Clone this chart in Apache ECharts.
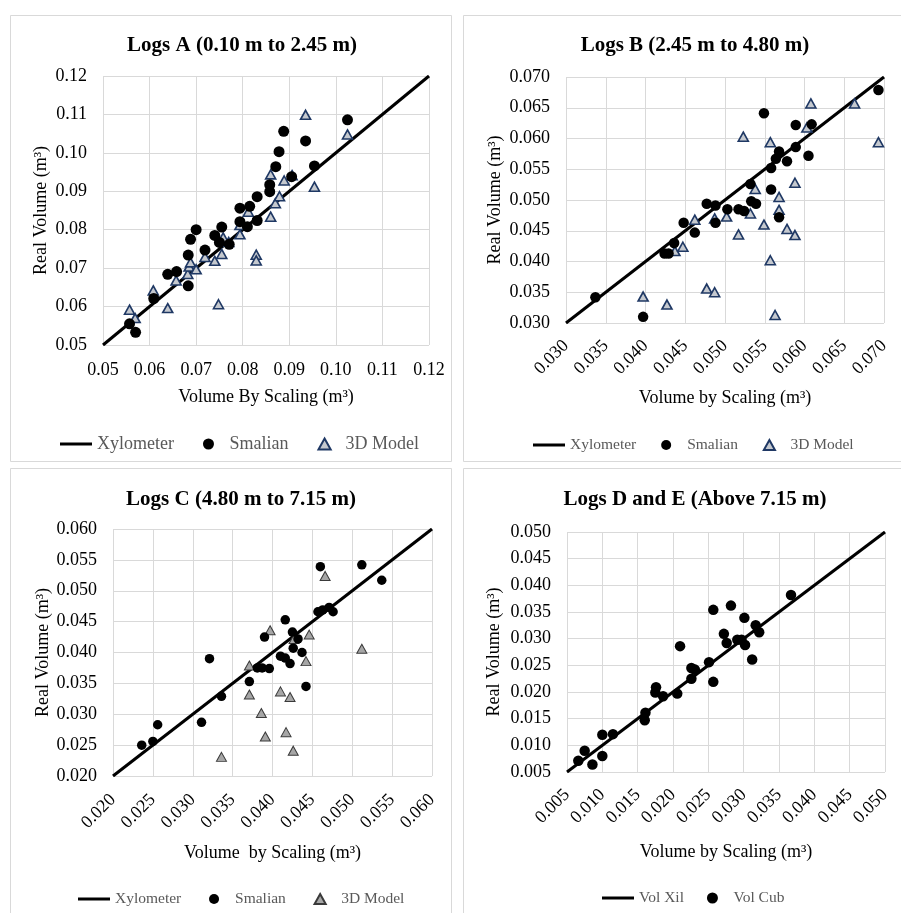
<!DOCTYPE html>
<html><head><meta charset="utf-8">
<script src="https://cdn.jsdelivr.net/npm/echarts@6/dist/echarts.min.js"></script>
<style>html,body{margin:0;padding:0;background:#fff}#c{width:901px;height:913px}</style>
</head><body><div id="c"></div>
<script>
// ---- Data ----
const titles = ['Logs A (0.10 m to 2.45 m)', 'Logs B (2.45 m to 4.80 m)', 'Logs C (4.80 m to 7.15 m)', 'Logs D and E (Above 7.15 m)'];
const xNames = ['Volume By Scaling (m³)', 'Volume by Scaling (m³)', 'Volume  by Scaling (m³)', 'Volume by Scaling (m³)'];
const yName = 'Real Volume (m³)';
const axisMin = [0.05, 0.030, 0.020, 0.005];
const axisMax = [0.12, 0.070, 0.060, 0.050];
const axisStep = [0.01, 0.005, 0.005, 0.005];
const axisDecimals = [2, 3, 3, 3];

const aSmalian = [[0.0557,0.0555],[0.0570,0.0533],[0.0609,0.0621],[0.0639,0.0684],[0.0658,0.0691],[0.0683,0.0654],[0.0683,0.0734],[0.0688,0.0775],[0.0700,0.0800],[0.0719,0.0747],[0.0740,0.0785],[0.0755,0.0807],[0.0750,0.0767],[0.0771,0.0762],[0.0794,0.0856],[0.0815,0.0861],[0.0794,0.0821],[0.0810,0.0808],[0.0831,0.0824],[0.0831,0.0886],[0.0858,0.0917],[0.0858,0.0899],[0.0871,0.0964],[0.0878,0.1003],[0.0888,0.1056],[0.0905,0.0938],[0.0935,0.1031],[0.0954,0.0966],[0.1025,0.1086]];
const a3D = [[0.0557,0.0592],[0.0569,0.0570],[0.0608,0.0642],[0.0639,0.0596],[0.0657,0.0668],[0.0682,0.0685],[0.0685,0.0704],[0.0688,0.0715],[0.0700,0.0697],[0.0719,0.0729],[0.0740,0.0719],[0.0748,0.0606],[0.0755,0.0737],[0.0758,0.0780],[0.0770,0.0768],[0.0794,0.0788],[0.0794,0.0812],[0.0812,0.0847],[0.0829,0.0735],[0.0829,0.0720],[0.0860,0.0834],[0.0860,0.0944],[0.0870,0.0869],[0.0879,0.0887],[0.0889,0.0928],[0.0906,0.0942],[0.0935,0.1099],[0.0954,0.0912],[0.1025,0.1048]];
const bSmalian = [[0.0337,0.0342],[0.0397,0.0310],[0.0424,0.0413],[0.0429,0.0413],[0.0436,0.0430],[0.0448,0.0463],[0.0462,0.0447],[0.0477,0.0494],[0.0488,0.0491],[0.0488,0.0463],[0.0503,0.0485],[0.0517,0.0485],[0.0524,0.0482],[0.0532,0.0526],[0.0533,0.0498],[0.0539,0.0494],[0.0549,0.0641],[0.0558,0.0552],[0.0558,0.0517],[0.0564,0.0567],[0.0568,0.0579],[0.0568,0.0472],[0.0578,0.0563],[0.0589,0.0586],[0.0589,0.0622],[0.0605,0.0572],[0.0609,0.0623],[0.0693,0.0679]];
const b3D = [[0.0397,0.0343],[0.0427,0.0330],[0.0437,0.0417],[0.0447,0.0424],[0.0462,0.0468],[0.0477,0.0356],[0.0487,0.0350],[0.0487,0.0470],[0.0502,0.0473],[0.0517,0.0444],[0.0523,0.0603],[0.0532,0.0478],[0.0538,0.0518],[0.0549,0.0460],[0.0557,0.0594],[0.0557,0.0402],[0.0563,0.0313],[0.0568,0.0505],[0.0568,0.0484],[0.0578,0.0453],[0.0588,0.0528],[0.0588,0.0443],[0.0603,0.0618],[0.0608,0.0657],[0.0663,0.0657],[0.0693,0.0594]];
const cSmalian = [[0.0236,0.0250],[0.0250,0.0256],[0.0256,0.0283],[0.0311,0.0287],[0.0321,0.0390],[0.0336,0.0329],[0.0371,0.0353],[0.0381,0.0375],[0.0387,0.0375],[0.0390,0.0425],[0.0396,0.0374],[0.0410,0.0394],[0.0416,0.0453],[0.0416,0.0391],[0.0422,0.0382],[0.0425,0.0433],[0.0426,0.0407],[0.0432,0.0422],[0.0437,0.0400],[0.0442,0.0345],[0.0457,0.0466],[0.0460,0.0539],[0.0463,0.0469],[0.0471,0.0473],[0.0476,0.0466],[0.0512,0.0542],[0.0537,0.0517]];
const c3D = [[0.0336,0.0231],[0.0371,0.0379],[0.0371,0.0332],[0.0386,0.0302],[0.0391,0.0264],[0.0397,0.0436],[0.0410,0.0337],[0.0417,0.0271],[0.0422,0.0328],[0.0426,0.0241],[0.0427,0.0422],[0.0442,0.0386],[0.0446,0.0429],[0.0466,0.0524],[0.0512,0.0406]];
const dVolCub = [[0.0066,0.0071],[0.0075,0.0090],[0.0086,0.0064],[0.0100,0.0080],[0.0100,0.0120],[0.0115,0.0121],[0.0160,0.0147],[0.0161,0.0161],[0.0176,0.0209],[0.0175,0.0199],[0.0186,0.0192],[0.0206,0.0197],[0.0210,0.0286],[0.0226,0.0225],[0.0226,0.0245],[0.0231,0.0242],[0.0251,0.0256],[0.0257,0.0219],[0.0257,0.0354],[0.0272,0.0309],[0.0276,0.0292],[0.0282,0.0362],[0.0291,0.0298],[0.0297,0.0298],[0.0301,0.0339],[0.0302,0.0288],[0.0312,0.0261],[0.0317,0.0325],[0.0322,0.0312],[0.0367,0.0382]];

// ---- Layout ----
const FONT = 'Liberation Serif';
const grids = [
  {left:103, top:76, width:326, height:269},
  {left:566, top:77, width:318, height:246},
  {left:113, top:529, width:319, height:247},
  {left:567, top:532, width:318, height:240}
];
const titlePos = [[237,30],[690,30],[236,484],[690,484]];
const xNameGap = [43, 66, 68, 71];
const yNameGap = [53, 62, 61, 64];
const labelRotate = [0, 45, 45, 45];
const xLabelMargin = [16, 20, 21, 20];
const LINE_ICON = 'path://M0,0 L32,0 L32,3 L0,3 Z';
const TRI_ICON = 'path://M5,0 L10,9 L0,9 Z';

const option = {
  animation: false,
  backgroundColor: '#fff',
  title: titles.map((t,i)=>({text:t, left:titlePos[i][0], top:titlePos[i][1], textAlign:'center',
    textStyle:{fontFamily:FONT, fontWeight:'bold', fontSize:21, color:'#000'}})),
  grid: grids,
  xAxis: grids.map((g,i)=>({type:'value', gridIndex:i, min:axisMin[i], max:axisMax[i], interval:axisStep[i],
    name:xNames[i], nameLocation:'middle', nameGap:xNameGap[i],
    nameTextStyle:{fontFamily:FONT, fontSize:18, color:'#000'},
    axisLine:{show:false}, axisTick:{show:false},
    axisLabel:{fontFamily:FONT, fontSize:18, color:'#000', margin:xLabelMargin[i], rotate:labelRotate[i],
      formatter:v=>v.toFixed(axisDecimals[i])},
    splitLine:{show:true, lineStyle:{color:'#d9d9d9', width:1}}})),
  yAxis: grids.map((g,i)=>({type:'value', gridIndex:i, min:axisMin[i], max:axisMax[i], interval:axisStep[i],
    name:yName, nameLocation:'middle', nameGap:yNameGap[i],
    nameTextStyle:{fontFamily:FONT, fontSize:18, color:'#000'},
    axisLine:{show:false}, axisTick:{show:false},
    axisLabel:{fontFamily:FONT, fontSize:18, color:'#000', margin:16,
      formatter:v=>v.toFixed(axisDecimals[i])},
    splitLine:{show:true, lineStyle:{color:'#d9d9d9', width:1}}})),
  legend: [
    {left:60, top:435, padding:0, itemWidth:32, itemHeight:11, itemGap:29,
     textStyle:{fontFamily:FONT, fontSize:18, color:'#595959'},
     data:[{name:'Xylometer', icon:LINE_ICON, itemStyle:{color:'#000'}},
           {name:'Smalian', icon:'circle'}, {name:'3D Model', icon:TRI_ICON}]},
    {left:533, top:437, padding:0, itemWidth:32, itemHeight:10, itemGap:21,
     textStyle:{fontFamily:FONT, fontSize:15.5, color:'#595959'},
     data:[{name:'Xylometer ', icon:LINE_ICON, itemStyle:{color:'#000'}},
           {name:'Smalian ', icon:'circle'}, {name:'3D Model ', icon:TRI_ICON}]},
    {left:78, top:891, padding:0, itemWidth:32, itemHeight:10, itemGap:20,
     textStyle:{fontFamily:FONT, fontSize:15.5, color:'#595959'},
     data:[{name:'Xylometer  ', icon:LINE_ICON, itemStyle:{color:'#000'}},
           {name:'Smalian  ', icon:'circle'}, {name:'3D Model  ', icon:TRI_ICON}]},
    {left:602, top:890, padding:0, itemWidth:32, itemHeight:11, itemGap:23,
     textStyle:{fontFamily:FONT, fontSize:15.5, color:'#595959'},
     data:[{name:'Vol Xil', icon:LINE_ICON, itemStyle:{color:'#000'}},
           {name:'Vol Cub', icon:'circle'}]}
  ],
  graphic: [
    {type:'rect', shape:{x:10.5,y:15.5,width:441,height:446}, style:{fill:'none', stroke:'#d9d9d9', lineWidth:1}, silent:true},
    {type:'rect', shape:{x:463.5,y:15.5,width:445,height:446}, style:{fill:'none', stroke:'#d9d9d9', lineWidth:1}, silent:true},
    {type:'rect', shape:{x:10.5,y:468.5,width:441,height:450}, style:{fill:'none', stroke:'#d9d9d9', lineWidth:1}, silent:true},
    {type:'rect', shape:{x:463.5,y:468.5,width:445,height:450}, style:{fill:'none', stroke:'#d9d9d9', lineWidth:1}, silent:true}
  ],
  series: []
};

function lineSeries(name, i){
  return {name, type:'line', xAxisIndex:i, yAxisIndex:i, data:[[axisMin[i],axisMin[i]],[axisMax[i],axisMax[i]]],
    symbol:'none', lineStyle:{color:'#000', width:3}, itemStyle:{color:'#000'}, z:2, silent:true};
}
function circleSeries(name, i, data, size){
  return {name, type:'scatter', xAxisIndex:i, yAxisIndex:i, data, symbol:'circle', symbolSize:size,
    itemStyle:{color:'#000', opacity:1}, z:4, silent:true};
}
function triSeries(name, i, data, size, fill, border, bw){
  return {name, type:'scatter', xAxisIndex:i, yAxisIndex:i, data, symbol:'triangle', symbolSize:size,
    itemStyle:{color:fill, borderColor:border, borderWidth:bw, opacity:1}, z:3, silent:true};
}
option.series.push(
  lineSeries('Xylometer',0), circleSeries('Smalian',0,aSmalian,11), triSeries('3D Model',0,a3D,[10,9],'#c5c9cf','#1f3864',1.6),
  lineSeries('Xylometer ',1), circleSeries('Smalian ',1,bSmalian,10.5), triSeries('3D Model ',1,b3D,[10,9],'#c5c9cf','#1f3864',1.6),
  lineSeries('Xylometer  ',2), circleSeries('Smalian  ',2,cSmalian,9.5), triSeries('3D Model  ',2,c3D,[10,9],'#a6a6a6','#3a3a3a',1),
  lineSeries('Vol Xil',3), circleSeries('Vol Cub',3,dVolCub,10.5)
);
const chart = echarts.init(document.getElementById('c'), null, {renderer:'canvas'});
chart.setOption(option);
</script></body></html>
